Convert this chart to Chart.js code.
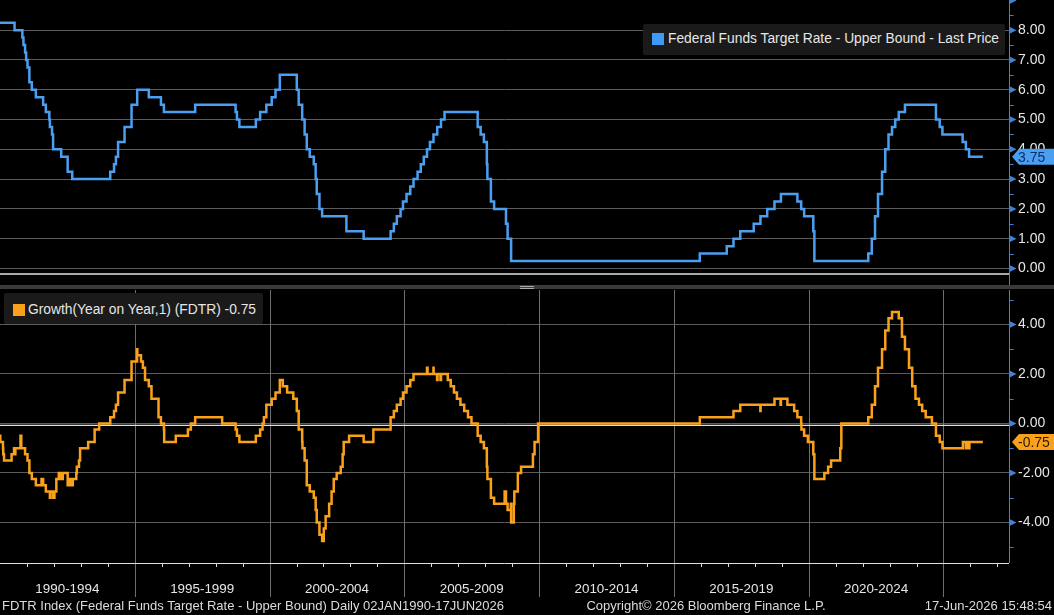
<!DOCTYPE html>
<html>
<head>
<meta charset="utf-8">
<script src="https://cdn.jsdelivr.net/npm/chart.js@4.4.1/dist/chart.umd.min.js"></script>
<style>
  body { margin: 0; background: #000; width: 1054px; height: 615px; overflow: hidden; position: relative;
         font-family: "Liberation Sans", Arial, sans-serif; color: #e6e6e6; }
  canvas { position: absolute; left: 0; }
  .legend { position: absolute; background: #1a1a1a; border-radius: 2px; font-size: 13.8px; white-space: nowrap; }
  .legend .sw { position: absolute; width: 12px; height: 12px; }
  .legend .txt { position: absolute; line-height: 16px; }
  .divider { position: absolute; left: 0; top: 285px; width: 1054px; height: 4px; background: #3a3a3a; }
  .grip { position: absolute; left: 520px; top: 286px; width: 14px; height: 1px; background: #aaa; }
  .foot { position: absolute; top: 598px; font-size: 13px; line-height: 16px; color: #dcdcdc; white-space: nowrap; }
</style>
</head>
<body>
<canvas id="rateChart" width="1054" height="635" style="top:-20px"></canvas>
<canvas id="yoyChart" width="1054" height="615" style="top:0"></canvas>

<div class="divider"></div>
<div class="grip"></div>
<div class="grip" style="top:288px"></div>

<div class="legend" style="left:643px;top:24px;width:362px;height:31px;">
  <div class="sw" style="left:9px;top:9px;background:#3d9bf5;"></div>
  <div class="txt" style="left:25px;top:7px;">Federal Funds Target Rate - Upper Bound - Last Price</div>
</div>
<div class="legend" style="left:4px;top:293px;width:259px;height:31px;">
  <div class="sw" style="left:9px;top:11px;background:#f9a11b;"></div>
  <div class="txt" style="left:24px;top:9px;">Growth(Year on Year,1) (FDTR) -0.75</div>
</div>

<div class="foot" style="left:2px;">FDTR Index (Federal Funds Target Rate - Upper Bound) Daily 02JAN1990-17JUN2026</div>
<div class="foot" style="left:706px;transform:translateX(-50%);">Copyright© 2026 Bloomberg Finance L.P.</div>
<div class="foot" style="right:2px;">17-Jun-2026 15:48:54</div>

<script>
// Fed funds target upper bound: dates of each change (decimal years) and the new level
const rateDates = [
  1990.00, 1990.54, 1990.83, 1990.87, 1990.93, 1990.97, 1991.02, 1991.09, 1991.18, 1991.33,
  1991.60, 1991.70, 1991.83, 1991.85, 1991.93, 1991.97, 1992.27, 1992.51, 1992.68, 1994.09,
  1994.23, 1994.30, 1994.38, 1994.62, 1994.88, 1995.09, 1995.52, 1995.97, 1996.08, 1997.24,
  1998.74, 1998.79, 1998.88, 1999.49, 1999.65, 1999.88, 2000.08, 2000.22, 2000.38, 2001.01,
  2001.08, 2001.21, 2001.30, 2001.38, 2001.49, 2001.64, 2001.71, 2001.75, 2001.85, 2001.95,
  2002.85, 2003.49, 2004.49, 2004.61, 2004.72, 2004.86, 2004.95, 2005.08, 2005.22, 2005.34,
  2005.49, 2005.61, 2005.72, 2005.84, 2005.95, 2006.08, 2006.22, 2006.36, 2006.49, 2007.72,
  2007.83, 2007.95, 2008.06, 2008.08, 2008.21, 2008.33, 2008.77, 2008.83, 2008.96, 2015.96,
  2016.96, 2017.21, 2017.46, 2017.96, 2018.21, 2018.46, 2018.73, 2018.97, 2019.58, 2019.72,
  2019.83, 2020.17, 2020.21, 2022.21, 2022.34, 2022.46, 2022.57, 2022.72, 2022.84, 2022.96,
  2023.09, 2023.21, 2023.34, 2023.57, 2024.72, 2024.86, 2024.96, 2025.71, 2025.83, 2025.95,
  2026.46
];
const rateValues = [
  8.25, 8.00, 7.75, 7.50, 7.25, 7.00, 6.75, 6.25, 6.00, 5.75,
  5.50, 5.25, 5.00, 4.75, 4.50, 4.00, 3.75, 3.25, 3.00, 3.25,
  3.50, 3.75, 4.25, 4.75, 5.50, 6.00, 5.75, 5.50, 5.25, 5.50,
  5.25, 5.00, 4.75, 5.00, 5.25, 5.50, 5.75, 6.00, 6.50, 6.00,
  5.50, 5.00, 4.50, 4.00, 3.75, 3.50, 3.00, 2.50, 2.00, 1.75,
  1.25, 1.00, 1.25, 1.50, 1.75, 2.00, 2.25, 2.50, 2.75, 3.00,
  3.25, 3.50, 3.75, 4.00, 4.25, 4.50, 4.75, 5.00, 5.25, 4.75,
  4.50, 4.25, 3.50, 3.00, 2.25, 2.00, 1.50, 1.00, 0.25, 0.50,
  0.75, 1.00, 1.25, 1.50, 1.75, 2.00, 2.25, 2.50, 2.25, 2.00,
  1.75, 1.25, 0.25, 0.50, 1.00, 1.75, 2.50, 3.25, 4.00, 4.50,
  4.75, 5.00, 5.25, 5.50, 5.00, 4.75, 4.50, 4.25, 4.00, 3.75,
  3.75
];

// Year-on-year change (percentage points), read at each step
const yoyDates = [
  1990.00, 1990.01, 1990.11, 1990.12, 1990.15, 1990.43, 1990.52, 1990.54, 1990.57, 1990.76,
  1990.79, 1990.93, 1991.02, 1991.09, 1991.18, 1991.33, 1991.54, 1991.60, 1991.70, 1991.85,
  1991.87, 1991.97, 1992.02, 1992.09, 1992.18, 1992.27, 1992.33, 1992.51, 1992.60, 1992.68,
  1992.70, 1992.83, 1992.85, 1992.93, 1992.97, 1993.27, 1993.51, 1993.68, 1994.09, 1994.23,
  1994.30, 1994.38, 1994.62, 1994.88, 1995.085, 1995.095, 1995.23, 1995.30, 1995.38, 1995.52,
  1995.62, 1995.88, 1995.97, 1996.08, 1996.09, 1996.52, 1996.97, 1997.08, 1997.24, 1998.24,
  1998.74, 1998.79, 1998.88, 1999.49, 1999.65, 1999.74, 1999.79, 1999.88, 2000.08, 2000.22,
  2000.38, 2000.49, 2000.65, 2000.88, 2001.01, 2001.08, 2001.21, 2001.22, 2001.30, 2001.38,
  2001.49, 2001.64, 2001.71, 2001.75, 2001.85, 2001.95, 2002.01, 2002.08, 2002.21, 2002.30,
  2002.38, 2002.49, 2002.64, 2002.71, 2002.75, 2002.95, 2003.49, 2003.85, 2004.49, 2004.61,
  2004.72, 2004.86, 2004.95, 2005.08, 2005.22, 2005.34, 2005.84, 2005.86, 2006.08, 2006.085,
  2006.215, 2006.23, 2006.34, 2006.36, 2006.61, 2006.72, 2006.84, 2006.95, 2007.08, 2007.22,
  2007.36, 2007.49, 2007.72, 2007.83, 2007.95, 2008.06, 2008.08, 2008.21, 2008.33, 2008.72,
  2008.77, 2008.83, 2008.95, 2008.96, 2009.06, 2009.08, 2009.21, 2009.33, 2009.77, 2009.83,
  2009.96, 2015.96, 2017.21, 2017.46, 2018.205, 2018.215, 2018.73, 2018.955, 2018.97, 2019.21,
  2019.46, 2019.58, 2019.72, 2019.73, 2019.83, 2019.97, 2020.17, 2020.21, 2020.58, 2020.72,
  2020.83, 2021.17, 2021.21, 2022.21, 2022.34, 2022.46, 2022.57, 2022.72, 2022.84, 2022.96,
  2023.09, 2023.34, 2023.46, 2023.57, 2023.72, 2023.84, 2023.96, 2024.09, 2024.21, 2024.34,
  2024.57, 2024.72, 2024.86, 2024.96, 2025.72, 2025.83, 2025.86, 2025.95, 2025.96, 2026.46
];
const yoyValues = [
  -0.50, -0.75, -1.00, -1.25, -1.50, -1.25, -1.00, -1.25, -1.00, -0.50,
  -1.00, -1.25, -1.50, -2.00, -2.25, -2.50, -2.25, -2.50, -2.75, -3.00,
  -2.75, -3.00, -2.75, -2.25, -2.00, -2.25, -2.00, -2.50, -2.25, -2.50,
  -2.25, -2.00, -1.75, -1.50, -1.00, -0.75, -0.25, 0.00, 0.25, 0.50,
  0.75, 1.25, 1.75, 2.50, 3.00, 2.75, 2.50, 2.25, 1.75, 1.50,
  1.00, 0.25, 0.00, -0.25, -0.75, -0.50, -0.25, 0.00, 0.25, 0.00,
  -0.25, -0.50, -0.75, -0.50, -0.25, 0.00, 0.25, 0.75, 1.00, 1.25,
  1.75, 1.50, 1.25, 1.00, 0.50, -0.25, -0.75, -1.00, -1.50, -2.50,
  -2.75, -3.00, -3.50, -4.00, -4.50, -4.75, -4.25, -3.75, -3.25, -2.75,
  -2.25, -2.00, -1.75, -1.25, -0.75, -0.50, -0.75, -0.25, 0.25, 0.50,
  0.75, 1.00, 1.25, 1.50, 1.75, 2.00, 2.25, 2.00, 2.25, 2.00,
  1.75, 2.00, 1.75, 2.00, 1.75, 1.50, 1.25, 1.00, 0.75, 0.50,
  0.25, 0.00, -0.50, -0.75, -1.00, -1.75, -2.25, -3.00, -3.25, -2.75,
  -3.25, -3.50, -3.25, -4.00, -3.25, -2.75, -2.00, -1.75, -1.25, -0.75,
  0.00, 0.25, 0.50, 0.75, 0.50, 0.75, 1.00, 0.75, 1.00, 0.75,
  0.50, 0.25, 0.00, -0.25, -0.50, -0.75, -1.25, -2.25, -2.00, -1.75,
  -1.50, -1.00, 0.00, 0.25, 0.75, 1.50, 2.25, 3.00, 3.75, 4.25,
  4.50, 4.25, 3.50, 3.00, 2.25, 1.50, 1.00, 0.75, 0.50, 0.25,
  0.00, -0.50, -0.75, -1.00, -0.75, -1.00, -0.75, -1.00, -0.75, -0.75
];

const rateTicks = [0, 1, 2, 3, 4, 5, 6, 7, 8];
const yoyTicks = [-4, -2, 0, 2, 4];
const periodLabels = ['1990-1994', '1995-1999', '2000-2004', '2005-2009', '2010-2014', '2015-2019', '2020-2024'];
const periodMids = [1992.5, 1997.5, 2002.5, 2007.5, 2012.5, 2017.5, 2022.5];
const periodBreaks = [1995, 2000, 2005, 2010, 2015, 2020, 2025];

const BLUE = '#4a9ff0';
const ORANGE = '#f9a11b';
const AXIS_BLUE = '#3f82d6';
const GRID = '#5c5c5c';
const FONT_FAMILY = '"Liberation Sans", Arial, sans-serif';
const FONT = { family: FONT_FAMILY, size: 14 };

function toPoints(xs, ys) {
  return xs.map((x, i) => ({ x: x, y: ys[i] }));
}

// right axis line, arrow ticks, minor ticks and last value tag
function sideAxis(opts) {
  return {
    id: 'sideAxis',
    beforeDatasetsDraw(chart) {
      const { ctx, chartArea: a, scales } = chart;
      ctx.save();
      if (opts.breaks) {
        ctx.strokeStyle = '#6e6e6e';
        ctx.lineWidth = 1;
        opts.breaks.forEach(v => {
          const x = Math.round(scales.x.getPixelForValue(v)) + 0.5;
          ctx.beginPath(); ctx.moveTo(x, a.top); ctx.lineTo(x, a.bottom + 34); ctx.stroke();
        });
        // bottom axis + yearly ticks
        ctx.strokeStyle = '#e0e0e0';
        ctx.beginPath(); ctx.moveTo(a.left, a.bottom + 0.5); ctx.lineTo(a.right, a.bottom + 0.5); ctx.stroke();
        for (let yr = 1991; yr <= 2027; yr++) {
          if (yr % 5 === 0) continue;
          const x = Math.round(scales.x.getPixelForValue(yr)) + 0.5;
          ctx.beginPath(); ctx.moveTo(x, a.bottom); ctx.lineTo(x, a.bottom + 4); ctx.stroke();
        }
      } else {
        ctx.strokeStyle = '#e0e0e0';
        ctx.lineWidth = 1.5;
        ctx.beginPath(); ctx.moveTo(a.left, a.bottom); ctx.lineTo(a.right, a.bottom); ctx.stroke();
      }
      // white reference line just under zero
      if (opts.zeroLine) {
        const y = scales.y.getPixelForValue(0) + 2;
        ctx.strokeStyle = '#e0e0e0';
        ctx.lineWidth = 1.2;
        ctx.beginPath(); ctx.moveTo(a.left, y); ctx.lineTo(a.right, y); ctx.stroke();
      }
      ctx.restore();
    },
    afterDraw(chart) {
      const { ctx, chartArea: a, scales } = chart;
      const ys = scales.y;
      const x0 = a.right + 0.5;
      ctx.save();
      ctx.strokeStyle = AXIS_BLUE;
      ctx.fillStyle = AXIS_BLUE;
      ctx.lineWidth = 1;
      ctx.beginPath(); ctx.moveTo(x0, a.top); ctx.lineTo(x0, a.bottom + opts.axisExtra); ctx.stroke();
      opts.major.forEach(v => {
        const y = ys.getPixelForValue(v);
        ctx.beginPath(); ctx.moveTo(x0, y - 3.5); ctx.lineTo(x0 + 7, y); ctx.lineTo(x0, y + 3.5); ctx.closePath(); ctx.fill();
      });
      opts.minor.forEach(v => {
        const y = Math.round(ys.getPixelForValue(v)) + 0.5;
        ctx.beginPath(); ctx.moveTo(x0, y); ctx.lineTo(x0 + 4, y); ctx.stroke();
      });
      // last value tag
      const yc = ys.getPixelForValue(opts.last);
      ctx.fillStyle = opts.tagColor;
      ctx.beginPath();
      ctx.moveTo(a.right + 3, yc);
      ctx.lineTo(a.right + 10, yc - 8);
      ctx.lineTo(1054, yc - 8);
      ctx.lineTo(1054, yc + 8);
      ctx.lineTo(a.right + 10, yc + 8);
      ctx.closePath();
      ctx.fill();
      ctx.fillStyle = opts.tagText;
      ctx.font = '14px ' + FONT_FAMILY;
      ctx.textBaseline = 'middle';
      ctx.fillText(opts.last.toFixed(2), a.right + 9, yc + 1);
      ctx.restore();
    }
  };
}

const rateMinor = [];
for (let v = 0.5; v <= 8.5; v += 1) rateMinor.push(v);

new Chart(document.getElementById('rateChart'), {
  type: 'line',
  data: {
    datasets: [{
      data: toPoints(rateDates, rateValues),
      borderColor: BLUE,
      borderWidth: 2.5,
      pointRadius: 0,
      stepped: true,
      fill: false
    }]
  },
  options: {
    responsive: false,
    animation: false,
    events: [],
    layout: { autoPadding: false, padding: { top: 20, left: 0, right: 0, bottom: 341 } },
    plugins: { legend: { display: false }, tooltip: { enabled: false } },
    scales: {
      x: { type: 'linear', min: 1990, max: 2027.43, display: false },
      y: {
        position: 'right',
        min: -0.185,
        max: 9.013,
        afterFit(s) { s.width = 45; },
        afterBuildTicks(s) { s.ticks = rateTicks.map(v => ({ value: v })); },
        grid: { color: GRID, drawTicks: false },
        border: { display: false },
        ticks: { color: '#e6e6e6', padding: 9, font: FONT, callback: v => v.toFixed(2) }
      }
    }
  },
  plugins: [sideAxis({
    major: [0, 1, 2, 3, 4, 5, 6, 7, 8, 9], minor: rateMinor,
    axisExtra: 12, last: 3.75, tagColor: '#4a9ff0', tagText: '#0e2f63'
  })]
});

new Chart(document.getElementById('yoyChart'), {
  type: 'line',
  data: {
    datasets: [{
      data: toPoints(yoyDates, yoyValues),
      borderColor: ORANGE,
      borderWidth: 2.5,
      pointRadius: 0,
      stepped: true,
      fill: false
    }]
  },
  options: {
    responsive: false,
    animation: false,
    events: [],
    layout: { autoPadding: false, padding: { top: 290, left: 0, right: 0, bottom: 0 } },
    plugins: { legend: { display: false }, tooltip: { enabled: false } },
    scales: {
      x: {
        type: 'linear', min: 1990, max: 2027.43,
        afterFit(s) { s.height = 52; },
        afterBuildTicks(s) { s.ticks = periodMids.map(v => ({ value: v })); },
        grid: { display: false, drawTicks: false },
        border: { display: false },
        ticks: { color: '#e6e6e6', padding: 18, maxRotation: 0, autoSkip: false,
                 font: { family: FONT_FAMILY, size: 13.4 },
                 callback: (v, i) => periodLabels[i] }
      },
      y: {
        position: 'right',
        min: -5.64,
        max: 5.39,
        afterFit(s) { s.width = 45; },
        afterBuildTicks(s) { s.ticks = yoyTicks.map(v => ({ value: v })); },
        grid: { color: GRID, drawTicks: false },
        border: { display: false },
        ticks: { color: '#e6e6e6', padding: 9, font: FONT, callback: v => v.toFixed(2) }
      }
    }
  },
  plugins: [sideAxis({
    breaks: periodBreaks, zeroLine: true,
    major: yoyTicks, minor: [-5, -3, -1, 1, 3, 5],
    axisExtra: 0, last: -0.75, tagColor: ORANGE, tagText: '#2b1800'
  })]
});
</script>
</body>
</html>
